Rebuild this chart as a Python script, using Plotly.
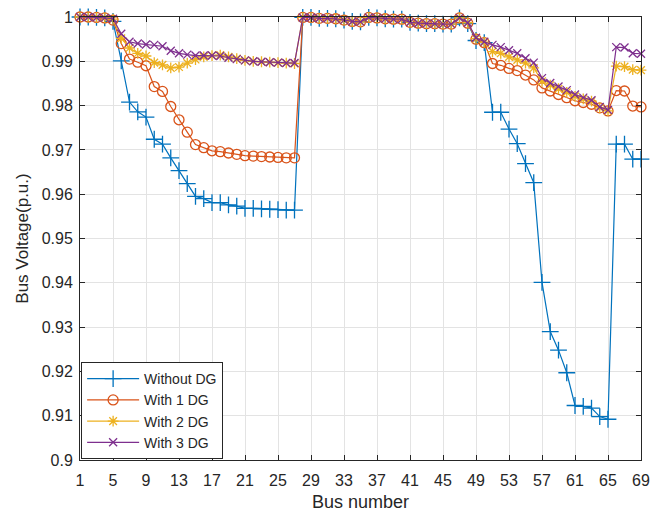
import plotly.graph_objects as go

bus = list(range(1, 70))

without_dg = [1.0000, 1.0000, 0.9999, 0.9998, 0.9990, 0.9901, 0.9808, 0.9786, 0.9774, 0.9724,
              0.9713, 0.9682, 0.9653, 0.9624, 0.9595, 0.9590, 0.9581, 0.9581, 0.9576, 0.9573,
              0.9568, 0.9568, 0.9567, 0.9566, 0.9565, 0.9564, 0.9564, 0.9999, 0.9999, 0.9997,
              0.9997, 0.9996, 0.9993, 0.9990, 0.9989, 0.9999, 0.9998, 0.9996, 0.9995, 0.9995,
              0.9988, 0.9986, 0.9985, 0.9985, 0.9984, 0.9984, 0.9998, 0.9985, 0.9947, 0.9942,
              0.9785, 0.9785, 0.9747, 0.9714, 0.9669, 0.9626, 0.9401, 0.9290, 0.9248, 0.9197,
              0.9123, 0.9121, 0.9117, 0.9098, 0.9092, 0.9713, 0.9713, 0.9679, 0.9679]

with_1dg = [1.0000, 1.0000, 0.9999, 0.9998, 0.9993, 0.9940, 0.9905, 0.9898, 0.9890, 0.9843,
            0.9832, 0.9798, 0.9768, 0.9740, 0.9712, 0.9705, 0.9698, 0.9696, 0.9693, 0.9690,
            0.9687, 0.9686, 0.9685, 0.9684, 0.9683, 0.9682, 0.9682, 0.9999, 0.9999, 0.9997,
            0.9997, 0.9996, 0.9993, 0.9990, 0.9989, 0.9999, 0.9998, 0.9996, 0.9995, 0.9995,
            0.9988, 0.9986, 0.9985, 0.9985, 0.9984, 0.9984, 0.9998, 0.9986, 0.9950, 0.9942,
            0.9895, 0.9891, 0.9884, 0.9879, 0.9869, 0.9858, 0.9840, 0.9833, 0.9825, 0.9818,
            0.9811, 0.9807, 0.9803, 0.9795, 0.9788, 0.9834, 0.9833, 0.9799, 0.9797]

with_2dg = [1.0000, 1.0000, 0.9999, 0.9998, 0.9995, 0.9952, 0.9930, 0.9918, 0.9912, 0.9897,
            0.9892, 0.9885, 0.9887, 0.9896, 0.9904, 0.9910, 0.9913, 0.9914, 0.9910, 0.9906,
            0.9902, 0.9900, 0.9899, 0.9898, 0.9897, 0.9896, 0.9895, 0.9999, 0.9999, 0.9997,
            0.9997, 0.9996, 0.9993, 0.9990, 0.9989, 0.9999, 0.9998, 0.9996, 0.9995, 0.9995,
            0.9988, 0.9986, 0.9985, 0.9985, 0.9984, 0.9984, 0.9998, 0.9987, 0.9951, 0.9943,
            0.9922, 0.9918, 0.9910, 0.9903, 0.9896, 0.9885, 0.9855, 0.9846, 0.9838, 0.9830,
            0.9821, 0.9815, 0.9810, 0.9795, 0.9788, 0.9889, 0.9888, 0.9881, 0.9880]

with_3dg = [1.0000, 1.0000, 0.9999, 0.9998, 0.9996, 0.9962, 0.9944, 0.9940, 0.9938, 0.9937,
            0.9934, 0.9924, 0.9918, 0.9915, 0.9913, 0.9913, 0.9913, 0.9912, 0.9908, 0.9905,
            0.9902, 0.9900, 0.9899, 0.9898, 0.9897, 0.9896, 0.9896, 0.9999, 0.9999, 0.9997,
            0.9997, 0.9996, 0.9993, 0.9990, 0.9989, 0.9999, 0.9998, 0.9996, 0.9995, 0.9995,
            0.9988, 0.9986, 0.9985, 0.9985, 0.9984, 0.9984, 0.9998, 0.9987, 0.9953, 0.9944,
            0.9937, 0.9932, 0.9925, 0.9918, 0.9907, 0.9897, 0.9862, 0.9851, 0.9843, 0.9835,
            0.9825, 0.9818, 0.9812, 0.9797, 0.9790, 0.9932, 0.9931, 0.9918, 0.9917]

series_names = ["Without DG", "With 1 DG", "With 2 DG", "With 3 DG"]
x_ticks = list(range(1, 70, 4))
y_ticks = [0.90, 0.91, 0.92, 0.93, 0.94, 0.95, 0.96, 0.97, 0.98, 0.99, 1.00]
y_tick_text = ["0.9", "0.91", "0.92", "0.93", "0.94", "0.95", "0.96", "0.97", "0.98", "0.99", "1"]

colors = ["#0072BD", "#D95319", "#EDB120", "#7E2F8E"]
symbols = ["cross-thin-open", "circle-open", "asterisk-open", "x-thin-open"]
sizes = [12, 10, 9, 8]

fig = go.Figure()
for name, vals, c, s, sz in zip(series_names, [without_dg, with_1dg, with_2dg, with_3dg], colors, symbols, sizes):
    fig.add_trace(go.Scatter(
        x=bus, y=vals, name=name, mode="lines+markers",
        line=dict(color=c, width=1.2),
        marker=dict(symbol=s, size=sz, color=c, line=dict(color=c, width=1.3)),
        cliponaxis=False,
    ))

axis_common = dict(
    showline=True, linecolor="#262626", linewidth=1, mirror="ticks",
    ticks="inside", ticklen=5, tickcolor="#262626", tickwidth=1,
    showgrid=True, gridcolor="#e3e3e3", gridwidth=1, zeroline=False,
    automargin=False,
    tickfont=dict(family="Liberation Sans, Arial", size=16, color="#262626"),
)

fig.update_layout(
    width=665, height=519,
    margin=dict(l=80, r=24, t=17, b=59),
    paper_bgcolor="white", plot_bgcolor="white",
    font=dict(family="Liberation Sans, Arial", color="#262626"),
    xaxis=dict(range=[1, 69], tickvals=x_ticks, ticklabelstandoff=6,
               title=dict(text="Bus number", font=dict(size=18, color="#262626"), standoff=7),
               **axis_common),
    yaxis=dict(range=[0.9, 1.0], tickvals=y_ticks, ticktext=y_tick_text, ticklabelstandoff=3,
               title=dict(text="Bus Voltage(p.u.)", font=dict(size=17, color="#262626"), standoff=8),
               **axis_common),
    legend=dict(x=0.002, y=0.002, xanchor="left", yanchor="bottom",
                bgcolor="white", bordercolor="#262626", borderwidth=1,
                font=dict(size=14, color="#262626"), tracegroupgap=0, itemwidth=52),
    showlegend=True,
)

fig.write_html("out.html")
